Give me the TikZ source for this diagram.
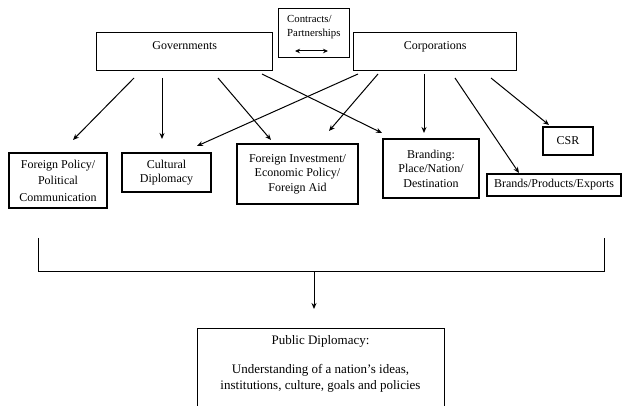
\documentclass[tikz,border=0pt]{standalone}
\usepackage{fontspec}
\setmainfont{Liberation Serif}
\usetikzlibrary{arrows.meta}
\tikzset{
  box/.style={draw, line width=1.35pt, inner sep=0pt, align=center, font=\fontsize{12}{14.5}\selectfont},
  arr/.style={line width=1pt, -{Stealth[length=6pt,width=5pt]}},
  conn/.style={line width=1pt},
}
\begin{document}
\begin{tikzpicture}[x=1pt,y=-1pt]
\useasboundingbox (0,0) rectangle (622,406);
\clip (0,0) rectangle (622,406);

% top boxes
\node[box, anchor=north west, minimum width=176pt, text height=17pt, text depth=21pt] (gov) at (96,32) {Governments};
\node[box, anchor=north west, minimum width=163pt, text height=17pt, text depth=21pt] (corp) at (353,32) {Corporations};
\node[box, anchor=north west, minimum width=71pt, minimum height=49pt] (contr) at (278,8) {};
\node[align=left, inner sep=0pt, anchor=west, font=\fontsize{10.8}{14}\selectfont] (ctext) at (287,27) {Contracts/\\Partnerships};
\coordinate (ca1) at (295,51);
\coordinate (ca2) at (328,51);
\draw[line width=1pt, {Stealth[length=5pt,width=4.5pt]}-{Stealth[length=5pt,width=4.5pt]}] (ca1) -- (ca2);

% middle boxes
\node[box, minimum width=98pt, minimum height=55pt, font=\fontsize{12}{16.5}\selectfont] (fp) at (58,180.5) {Foreign Policy/\\Political\\Communication};
\node[box, minimum width=89pt, minimum height=39pt] (cd) at (166.5,172.5) {Cultural\\Diplomacy};
\node[box, minimum width=121pt, minimum height=60pt] (fi) at (297.5,174) {Foreign Investment/\\Economic Policy/\\Foreign Aid};
\node[box, minimum width=96pt, minimum height=59pt] (br) at (431,168.5) {Branding:\\Place/Nation/\\Destination};
\node[box, minimum width=50pt, minimum height=28pt] (csr) at (568,141) {CSR};
\node[box, minimum width=134pt, minimum height=22pt] (bpe) at (554,185) {Brands/Products/Exports};

% arrows from governments
\coordinate (g1s) at (134,78);  \coordinate (g1e) at (73,140);
\coordinate (g2s) at (162,78);  \coordinate (g2e) at (162,139);
\coordinate (g3s) at (218,78);  \coordinate (g3e) at (271,140);
\coordinate (g4s) at (262,74);  \coordinate (g4e) at (382,133);
\draw[arr] (g1s) -- (g1e);
\draw[arr] (g2s) -- (g2e);
\draw[arr] (g3s) -- (g3e);
\draw[arr] (g4s) -- (g4e);

% arrows from corporations
\coordinate (c1s) at (358,74);  \coordinate (c1e) at (197,146);
\coordinate (c2s) at (378,74);  \coordinate (c2e) at (329,131);
\coordinate (c3s) at (424,74);  \coordinate (c3e) at (424,133);
\coordinate (c4s) at (455,78);  \coordinate (c4e) at (519,173);
\coordinate (c5s) at (491,78);  \coordinate (c5e) at (549,125);
\draw[arr] (c1s) -- (c1e);
\draw[arr] (c2s) -- (c2e);
\draw[arr] (c3s) -- (c3e);
\draw[arr] (c4s) -- (c4e);
\draw[arr] (c5s) -- (c5e);

% bracket
\coordinate (b1) at (38,238);
\coordinate (b2) at (38,272);
\coordinate (b3) at (604,272);
\coordinate (b4) at (604,238);
\draw[conn] (b1) -- (b2) -- (b3) -- (b4);
\coordinate (bm) at (314,272);
\coordinate (pdt) at (314,309);
\draw[arr] (bm) -- (pdt);

% public diplomacy
\node[box, anchor=north west, minimum width=247pt, minimum height=120pt] (pd) at (197,328) {};
\node[align=center, inner sep=0pt, font=\fontsize{13}{16}\selectfont] (pdtext) at (320.5,364) {Public Diplomacy:\\[13pt]Understanding of a nation’s ideas,\\institutions, culture, goals and policies};
\end{tikzpicture}
\end{document}
